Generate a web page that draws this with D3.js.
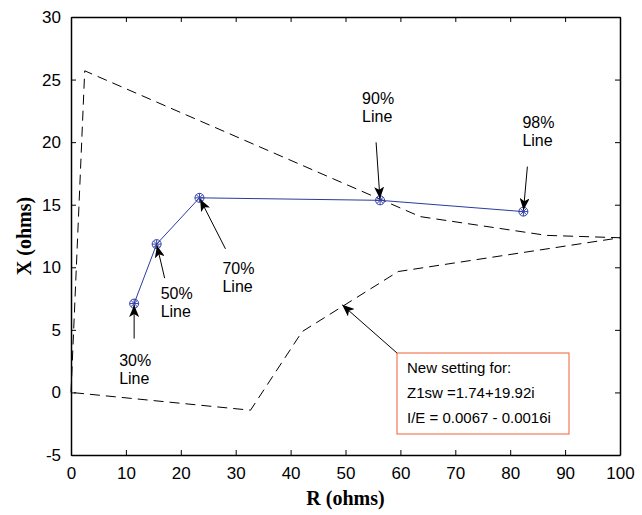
<!DOCTYPE html>
<html lang="en">
<head>
<meta charset="UTF-8" />
<title>Relay setting - R-X plane</title>
<style>
  body { margin: 0; background: #fff; }
  svg text { font-family: "Liberation Sans", Arial, sans-serif; }
  .axlabel { font-family: "Liberation Serif", "Times New Roman", serif !important; font-weight: bold; font-size: 20px; }
</style>
</head>
<body>
<script src="https://cdn.jsdelivr.net/npm/d3@7/dist/d3.min.js"></script>
<script>
// line setting points (R, X) in ohms
var pctLabels = ["30%", "50%", "70%", "90%", "98%"];
var rPts = [11.5, 15.6, 23.4, 56.3, 82.4];
var xPts = [7.1, 11.85, 15.55, 15.35, 14.45];

// dashed characteristic outline
var zoneR = [0, 2.5, 63.6, 86.6, 100, 59.6, 42.1, 32.7, 0];
var zoneX = [0, 25.7, 14.05, 12.55, 12.36, 9.66, 4.86, -1.42, 0];

var xTicks = [0, 10, 20, 30, 40, 50, 60, 70, 80, 90, 100];
var yTicks = [-5, 0, 5, 10, 15, 20, 25, 30];

var boxLines = ["New setting for:", "Z1sw =1.74+19.92i", "I/E = 0.0067 - 0.0016i"];

var W = 642, H = 515;
var pLeft = 71, pRight = 620, pTop = 17, pBottom = 455;

var svg = d3.select("body").append("svg")
  .attr("width", W).attr("height", H);

var defs = svg.append("defs");
defs.append("marker")
  .attr("id", "head")
  .attr("viewBox", "0 0 12 10")
  .attr("refX", 12).attr("refY", 5)
  .attr("markerWidth", 12).attr("markerHeight", 10)
  .attr("markerUnits", "userSpaceOnUse")
  .attr("orient", "auto")
  .append("path")
  .attr("d", "M0,0 L12,5 L0,10 L3,5 Z")
  .attr("fill", "#000");

var xScale = d3.scaleLinear().domain([0, 100]).range([pLeft, pRight]);
var yScale = d3.scaleLinear().domain([-5, 30]).range([pBottom, pTop]);
var plain = function(d) { return String(d); };

// axes (ticks inward on all 4 sides)
svg.append("g")
  .attr("transform", "translate(0," + pBottom + ")")
  .call(d3.axisBottom(xScale).tickValues(xTicks).tickFormat(plain).tickSize(-5).tickPadding(12).tickSizeOuter(0))
  .call(function(g) { g.select(".domain").attr("stroke-width", 1.5); g.selectAll("text").style("font-size", "17px"); });

svg.append("g")
  .attr("transform", "translate(0," + pTop + ")")
  .call(d3.axisTop(xScale).tickValues(xTicks).tickSize(-5).tickFormat("").tickSizeOuter(0))
  .call(function(g) { g.select(".domain").attr("stroke-width", 1.5); });

svg.append("g")
  .attr("transform", "translate(" + pLeft + ",0)")
  .call(d3.axisLeft(yScale).tickValues(yTicks).tickFormat(plain).tickSize(-5).tickPadding(10).tickSizeOuter(0))
  .call(function(g) { g.select(".domain").attr("stroke-width", 1.5); g.selectAll("text").style("font-size", "17px"); });

svg.append("g")
  .attr("transform", "translate(" + pRight + ",0)")
  .call(d3.axisRight(yScale).tickValues(yTicks).tickSize(-5).tickFormat("").tickSizeOuter(0))
  .call(function(g) { g.select(".domain").attr("stroke-width", 1.5); });

// axis titles
svg.append("text").attr("class", "axlabel")
  .attr("x", (pLeft + pRight) / 2).attr("y", 505)
  .attr("text-anchor", "middle")
  .text("R (ohms)");

svg.append("text").attr("class", "axlabel")
  .attr("transform", "translate(31," + ((pTop + pBottom) / 2) + ") rotate(-90)")
  .attr("text-anchor", "middle")
  .text("X (ohms)");

// dashed zone
var zone = zoneR.map(function(r, i) { return [r, zoneX[i]]; });
svg.append("path")
  .datum(zone)
  .attr("d", d3.line().x(function(d) { return xScale(d[0]); }).y(function(d) { return yScale(d[1]); }))
  .attr("fill", "none")
  .attr("stroke", "#000")
  .attr("stroke-width", 1)
  .attr("stroke-dasharray", "10,6");

// setting line
var pts = rPts.map(function(r, i) { return { r: r, x: xPts[i], lab: pctLabels[i] }; });
svg.append("path")
  .datum(pts)
  .attr("d", d3.line().x(function(d) { return xScale(d.r); }).y(function(d) { return yScale(d.x); }))
  .attr("fill", "none")
  .attr("stroke", "#2b3a9e")
  .attr("stroke-width", 1);

var mk = svg.selectAll("g.mk").data(pts).enter().append("g")
  .attr("class", "mk")
  .attr("transform", function(d) { return "translate(" + xScale(d.r) + "," + yScale(d.x) + ")"; })
  .attr("stroke", "#3341a8").attr("stroke-width", 1).attr("fill", "none");
mk.append("circle").attr("r", 4.5);
mk.append("path").attr("d", "M-4.5,0H4.5M0,-4.5V4.5M-3.2,-3.2L3.2,3.2M-3.2,3.2L3.2,-3.2");

// label placement: text anchor (dx, dy from point in px) and arrow tail
var labOffsets = [
  { tx: -15, ty: 62, ax: 0, ay: 35 },
  { tx: 4, ty: 55, ax: 8, ay: 34 },
  { tx: 23, ty: 76, ax: 26, ay: 51 },
  { tx: -18, ty: -96, ax: -4, ay: -58 },
  { tx: -1, ty: -84, ax: 4, ay: -45 }
];

pts.forEach(function(d, i) {
  var px = xScale(d.r), py = yScale(d.x), o = labOffsets[i];
  var dx = o.ax, dy = o.ay, len = Math.sqrt(dx * dx + dy * dy);
  svg.append("line")
    .attr("x1", px + dx).attr("y1", py + dy)
    .attr("x2", px + dx * 1.5 / len).attr("y2", py + dy * 1.5 / len)
    .attr("stroke", "#000").attr("stroke-width", 1)
    .attr("marker-end", "url(#head)");
  var g = svg.append("g").style("font-size", "16px");
  g.append("text").attr("x", px + o.tx).attr("y", py + o.ty).text(d.lab);
  g.append("text").attr("x", px + o.tx).attr("y", py + o.ty + 18).text("Line");
});

// annotation box
var bx = 397, by = 353, bw = 172, bh = 81;
svg.append("line")
  .attr("x1", bx).attr("y1", by)
  .attr("x2", xScale(49.4)).attr("y2", yScale(7.0))
  .attr("stroke", "#000").attr("stroke-width", 1)
  .attr("marker-end", "url(#head)");
svg.append("rect")
  .attr("x", bx).attr("y", by).attr("width", bw).attr("height", bh)
  .attr("fill", "#fff").attr("stroke", "#f0603a").attr("stroke-width", 1);
svg.selectAll("text.box").data(boxLines).enter().append("text")
  .attr("class", "box")
  .attr("x", bx + 10)
  .attr("y", function(d, i) { return by + 20 + i * 25; })
  .style("font-size", "15px")
  .text(function(d) { return d; });
</script>
</body>
</html>
